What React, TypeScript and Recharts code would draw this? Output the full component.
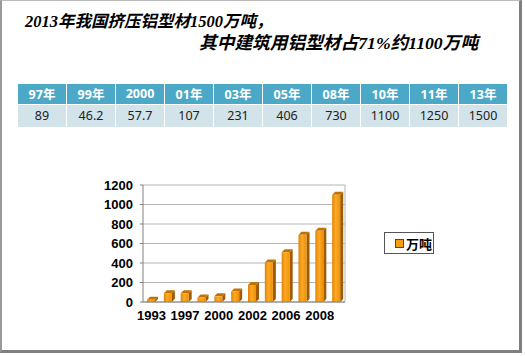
import { BarChart, Bar, XAxis, YAxis, CartesianGrid } from "recharts"

const years = ["1993", "1995", "1997", "1999", "2000", "2001", "2002", "2005", "2006", "2007", "2008", "2010"]
const tons = [22, 90, 89, 46.2, 57.7, 107, 175, 406, 510, 690, 730, 1100]
const yTicks = [0, 200, 400, 600, 800, 1000, 1200]

const tableYears = ["97年", "99年", "2000", "01年", "03年", "05年", "08年", "10年", "11年", "13年"]
const tableValues = ["89", "46.2", "57.7", "107", "231", "406", "730", "1100", "1250", "1500"]

const data = years.map((year, i) => ({ year, value: tons[i] }))

const DEPTH = 3

function Bar3D(props: any) {
  const { x, y, width, height } = props
  if (height == null || height <= 0) return null
  const d = DEPTH
  return (
    <g>
      <polygon
        points={`${x + width},${y} ${x + width + d},${y - d} ${x + width + d},${y + height - d} ${x + width},${y + height}`}
        fill="#a05a00"
      />
      <polygon
        points={`${x},${y} ${x + d},${y - d} ${x + width + d},${y - d} ${x + width},${y}`}
        fill="#c07300"
      />
      <rect x={x} y={y} width={width} height={height} fill="url(#barFront)" />
    </g>
  )
}

const cell: React.CSSProperties = {
  width: 48,
  textAlign: "center",
  padding: 0,
  borderRight: "1px solid #fff",
}

const titleStyle: React.CSSProperties = {
  position: "absolute",
  fontWeight: "bold",
  fontStyle: "italic",
  fontFamily: "'Liberation Serif', 'Noto Sans CJK SC'",
  whiteSpace: "nowrap",
  lineHeight: "24px",
}

const axisTick = { fontSize: 13, fontWeight: "bold", fill: "#000", fontFamily: "'Liberation Sans'" }

export default function App() {
  return (
    <div
      style={{
        position: "absolute",
        left: 0,
        top: 0,
        width: 525,
        height: 356,
        background: "#fff",
        fontFamily: "'Noto Sans', 'Noto Sans CJK SC', sans-serif",
      }}
    >
      {/* slide frame */}
      <div
        style={{
          position: "absolute",
          left: 0,
          top: 0,
          width: 517,
          height: 349,
          borderLeft: "2px solid #999",
          borderTop: "1px solid #bbb",
          borderRight: "3px solid #7f7f7f",
          borderBottom: "3px solid #7f7f7f",
        }}
      />

      <div style={{ ...titleStyle, left: 25, top: 10, fontSize: 16.5 }}>2013年我国挤压铝型材1500万吨，</div>
      <div style={{ ...titleStyle, left: 199, top: 31, fontSize: 17.7 }}>其中建筑用铝型材占71%约1100万吨</div>

      <table
        style={{
          position: "absolute",
          left: 18,
          top: 84,
          width: 481,
          borderCollapse: "collapse",
          tableLayout: "fixed",
          fontSize: 12.5,
        }}
      >
        <tbody>
          <tr style={{ height: 20, background: "#4ba9c7", color: "#fff", fontWeight: "bold" }}>
            {tableYears.map((t) => (
              <td key={t} style={cell}>
                {t}
              </td>
            ))}
          </tr>
          <tr style={{ height: 23, background: "#d2e3ea", color: "#222", borderTop: "1px solid #fff" }}>
            {tableValues.map((v) => (
              <td key={v} style={cell}>
                {v}
              </td>
            ))}
          </tr>
        </tbody>
      </table>

      <div style={{ position: "absolute", left: 80, top: 170 }}>
        <BarChart width={280} height={160} data={data} margin={{ top: 15, right: 15, bottom: 0, left: 0 }}>
          <defs>
            <linearGradient id="barFront" x1="0" y1="0" x2="1" y2="0">
              <stop offset="0%" stopColor="#e08400" />
              <stop offset="45%" stopColor="#ffa928" />
              <stop offset="100%" stopColor="#ee9000" />
            </linearGradient>
          </defs>
          <CartesianGrid
            stroke="#b5b5b5"
            verticalCoordinatesGenerator={({ offset }: any) => [offset.left + offset.width]}
          />
          <XAxis
            dataKey="year"
            interval={1}
            height={28}
            tickLine={false}
            tickMargin={3}
            axisLine={{ stroke: "#808080" }}
            tick={axisTick}
          />
          <YAxis
            width={63}
            domain={[0, 1200]}
            ticks={yTicks}
            interval={0}
            tickSize={3}
            tickMargin={7}
            axisLine={{ stroke: "#808080" }}
            tickLine={{ stroke: "#808080" }}
            tick={axisTick}
          />
          <Bar dataKey="value" name="万吨" barSize={8} shape={<Bar3D />} isAnimationActive={false} />
        </BarChart>
      </div>

      {/* legend */}
      <div
        style={{
          position: "absolute",
          left: 384,
          top: 232,
          width: 50,
          height: 22,
          border: "1px solid #555",
          display: "flex",
          alignItems: "center",
          boxSizing: "border-box",
        }}
      >
        <span
          style={{
            width: 7,
            height: 7,
            background: "#f99d10",
            border: "1px solid #6b4200",
            marginLeft: 10,
            marginRight: 2,
          }}
        />
        <span style={{ fontSize: 13, fontWeight: "bold", fontFamily: "'Noto Sans CJK SC'", color: "#000" }}>万吨</span>
      </div>
    </div>
  )
}
